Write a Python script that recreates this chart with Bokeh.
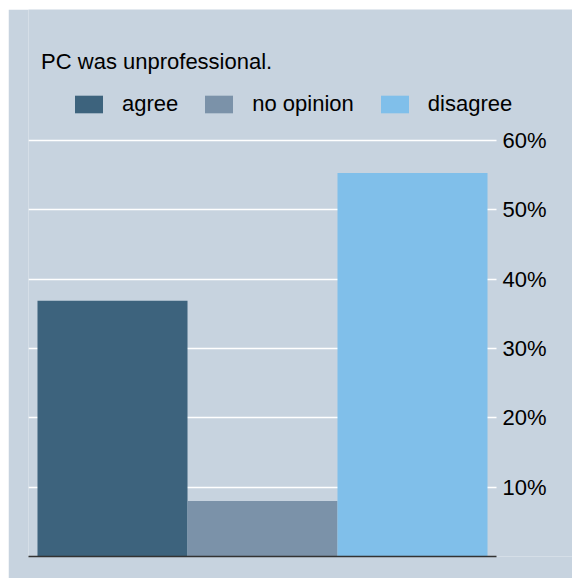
from bokeh.plotting import figure
from bokeh.models import (ColumnDataSource, Range1d, FixedTicker, LinearAxis,
                          PrintfTickFormatter, Legend, LegendItem, Label, Grid)
from bokeh.embed import file_html
from bokeh.resources import INLINE

title_text = "PC was unprofessional."
categories = ["agree", "no opinion", "disagree"]
percentages = [36.9, 8.0, 55.3]
tick_values = [10, 20, 30, 40, 50, 60]
bar_colors = ["#3d637d", "#7b92a9", "#80bfea"]

BG = "#c7d3df"
FONT = "Liberation Sans"
FS = "22px"

xpos = list(range(len(categories)))
src = ColumnDataSource(dict(x=xpos, cat=categories, pct=percentages, color=bar_colors))

PAD = 0.06
x_lo = -0.5 - PAD
x_edge = len(categories) - 0.5 + PAD   # right end of grid / axis position

p = figure(width=564, height=569, margin=(9, 0, 0, 8),
           x_range=Range1d(x_lo, x_lo + 544 / 150.0),
           y_range=Range1d(0, 78.9),
           output_backend="svg", toolbar_location=None,
           x_axis_location=None, y_axis_location=None,
           min_border_left=20, min_border_right=0,
           min_border_top=0, min_border_bottom=22,
           background_fill_color=BG, border_fill_color=BG,
           outline_line_color=None)
p.grid.visible = False

ticker = FixedTicker(ticks=tick_values)

yaxis = LinearAxis(ticker=ticker, formatter=PrintfTickFormatter(format="%d%%"),
                   fixed_location=x_edge,
                   axis_line_color=None, major_tick_line_color=None,
                   minor_tick_line_color=None, major_tick_out=0, major_tick_in=0,
                   major_label_standoff=6, major_label_text_font=FONT,
                   major_label_text_font_size=FS, major_label_text_color="black")
p.add_layout(yaxis, "right")

xaxis = LinearAxis(ticker=FixedTicker(ticks=[]), bounds=(x_lo, x_edge),
                   axis_line_color="#333333", axis_line_width=1.5,
                   major_tick_line_color=None, minor_tick_line_color=None,
                   major_tick_out=0, major_tick_in=0, major_label_standoff=0,
                   major_label_text_font_size="0px")
p.add_layout(xaxis, "below")

p.add_layout(Grid(dimension=1, ticker=ticker, cross_bounds=(x_lo, x_edge),
                  grid_line_color="white", grid_line_width=1.5))

r = p.vbar(x="x", top="pct", width=1.0, source=src,
           fill_color="color", line_color=None)

legend = Legend(items=[LegendItem(label=c, renderers=[r], index=i)
                       for i, c in enumerate(categories)],
                location=(43, 439), orientation="horizontal",
                glyph_width=35, glyph_height=22, label_height=22,
                label_standoff=16, spacing=23, padding=0, margin=0,
                background_fill_alpha=0, border_line_color=None,
                label_text_font=FONT, label_text_font_size=FS,
                label_text_color="black")
p.add_layout(legend)

p.add_layout(Label(x=12.6, y=494.7, x_units="screen", y_units="screen",
                   text=title_text, text_font=FONT, text_font_size=FS,
                   text_baseline="alphabetic", text_color="black"))

open("out.html", "w").write(file_html(p, INLINE))
